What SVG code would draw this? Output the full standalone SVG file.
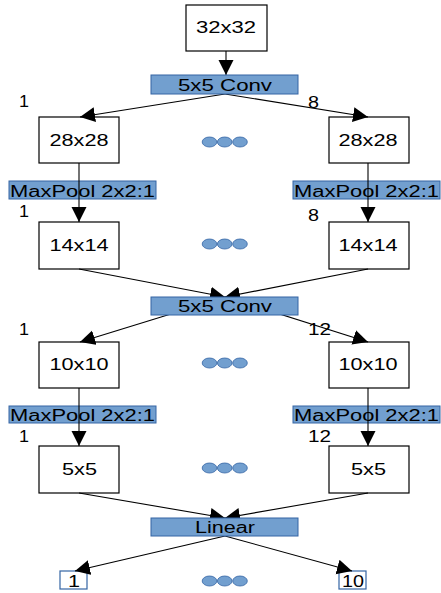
<svg xmlns="http://www.w3.org/2000/svg" width="441" height="593" viewBox="0 0 441 593">
  <style>
    .box { fill: #ffffff; stroke: #000000; stroke-width: 1.2; }
    .out { fill: #ffffff; stroke: #3465a4; stroke-width: 1.2; }
    .op { fill: #729fcf; stroke: #3465a4; stroke-width: 1; }
    .dot { fill: #729fcf; stroke: #3465a4; stroke-width: 0.8; }
    .lbl { font-family: "Liberation Sans", Arial, sans-serif; font-size: 16px; fill: #000000; }
    .mid { text-anchor: middle; }
    .edge { stroke: #000000; stroke-width: 1.1; fill: none; marker-end: url(#head); }
  </style>
  <defs>
    <marker id="head" markerUnits="userSpaceOnUse" markerWidth="17" markerHeight="16" refX="15" refY="7.5" orient="auto">
      <path d="M0,0 L15,7.5 L0,15 Z" fill="#000000"/>
    </marker>
  </defs>

  <rect width="441" height="593" fill="#ffffff"/>

  <!-- input image -->
  <g id="input">
    <rect class="box" x="186" y="5" width="81" height="46"/>
    <text class="lbl mid" x="226" y="33" textLength="60" lengthAdjust="spacingAndGlyphs">32x32</text>
  </g>

  <!-- layer 1 feature maps -->
  <g id="c1-first">
    <rect class="box" x="39" y="117" width="80" height="46"/>
    <text class="lbl mid" x="79" y="146" textLength="59" lengthAdjust="spacingAndGlyphs">28x28</text>
  </g>
  <g id="c1-last">
    <rect class="box" x="329" y="117" width="80" height="46"/>
    <text class="lbl mid" x="368" y="146" textLength="59" lengthAdjust="spacingAndGlyphs">28x28</text>
  </g>
  <g id="p1-first">
    <rect class="box" x="39" y="222" width="80" height="47"/>
    <text class="lbl mid" x="79" y="251" textLength="59" lengthAdjust="spacingAndGlyphs">14x14</text>
  </g>
  <g id="p1-last">
    <rect class="box" x="329" y="222" width="80" height="47"/>
    <text class="lbl mid" x="368" y="251" textLength="59" lengthAdjust="spacingAndGlyphs">14x14</text>
  </g>

  <!-- layer 2 feature maps -->
  <g id="c2-first">
    <rect class="box" x="39" y="342" width="80" height="46"/>
    <text class="lbl mid" x="79" y="370" textLength="59" lengthAdjust="spacingAndGlyphs">10x10</text>
  </g>
  <g id="c2-last">
    <rect class="box" x="329" y="342" width="80" height="46"/>
    <text class="lbl mid" x="368" y="370" textLength="59" lengthAdjust="spacingAndGlyphs">10x10</text>
  </g>
  <g id="p2-first">
    <rect class="box" x="39" y="446" width="80" height="47"/>
    <text class="lbl mid" x="79.5" y="475" textLength="35" lengthAdjust="spacingAndGlyphs">5x5</text>
  </g>
  <g id="p2-last">
    <rect class="box" x="329" y="446" width="80" height="47"/>
    <text class="lbl mid" x="368.5" y="475" textLength="35" lengthAdjust="spacingAndGlyphs">5x5</text>
  </g>

  <!-- outputs -->
  <g id="out-first">
    <rect class="out" x="60" y="571" width="27" height="18"/>
    <text class="lbl mid" x="74" y="587" textLength="12" lengthAdjust="spacingAndGlyphs">1</text>
  </g>
  <g id="out-last">
    <rect class="out" x="339" y="571" width="27" height="18"/>
    <text class="lbl mid" x="353" y="587" textLength="22" lengthAdjust="spacingAndGlyphs">10</text>
  </g>

  <!-- connectors -->
  <g id="connectors">
    <line class="edge" x1="226" y1="51" x2="226" y2="75"/>
    <line class="edge" x1="225" y1="94" x2="80" y2="117"/>
    <line class="edge" x1="225" y1="94" x2="368" y2="117"/>
    <line class="edge" x1="226" y1="297" x2="80" y2="342"/>
    <line class="edge" x1="226" y1="297" x2="368" y2="342"/>
    <line class="edge" x1="79" y1="269" x2="225" y2="297"/>
    <line class="edge" x1="368" y1="269" x2="225" y2="297"/>
    <line class="edge" x1="79" y1="493" x2="225" y2="518"/>
    <line class="edge" x1="368" y1="493" x2="225" y2="518"/>
    <line class="edge" x1="225" y1="536" x2="75" y2="571"/>
    <line class="edge" x1="225" y1="536" x2="352" y2="571"/>
  </g>

  <!-- operation bars -->
  <g id="conv1">
    <rect class="op" x="151" y="75" width="147" height="19"/>
    <text class="lbl mid" x="225" y="91" textLength="94" lengthAdjust="spacingAndGlyphs">5x5 Conv</text>
  </g>
  <g id="pool1-first">
    <rect class="op" x="9" y="181" width="147" height="18"/>
    <text class="lbl" x="10" y="197" textLength="145" lengthAdjust="spacingAndGlyphs">MaxPool 2x2:1</text>
  </g>
  <g id="pool1-last">
    <rect class="op" x="293" y="181" width="147" height="18"/>
    <text class="lbl" x="294" y="197" textLength="145" lengthAdjust="spacingAndGlyphs">MaxPool 2x2:1</text>
  </g>
  <g id="conv2">
    <rect class="op" x="151" y="297" width="147" height="18"/>
    <text class="lbl mid" x="225" y="312" textLength="94" lengthAdjust="spacingAndGlyphs">5x5 Conv</text>
  </g>
  <g id="pool2-first">
    <rect class="op" x="9" y="406" width="147" height="17"/>
    <text class="lbl" x="10" y="421" textLength="145" lengthAdjust="spacingAndGlyphs">MaxPool 2x2:1</text>
  </g>
  <g id="pool2-last">
    <rect class="op" x="293" y="406" width="147" height="17"/>
    <text class="lbl" x="294" y="421" textLength="145" lengthAdjust="spacingAndGlyphs">MaxPool 2x2:1</text>
  </g>
  <g id="linear">
    <rect class="op" x="151" y="518" width="147" height="18"/>
    <text class="lbl mid" x="225" y="533" textLength="60" lengthAdjust="spacingAndGlyphs">Linear</text>
  </g>

  <!-- pooling arrows pass over the bars -->
  <g id="connectors-pool">
    <line class="edge" x1="79" y1="163" x2="79" y2="222"/>
    <line class="edge" x1="368" y1="163" x2="368" y2="222"/>
    <line class="edge" x1="79" y1="388" x2="79" y2="446"/>
    <line class="edge" x1="368" y1="388" x2="368" y2="446"/>
  </g>

  <!-- channel indices -->
  <g id="indices">
    <text class="lbl" x="19" y="107" textLength="10" lengthAdjust="spacingAndGlyphs">1</text>
    <text class="lbl" x="308" y="108" textLength="11" lengthAdjust="spacingAndGlyphs">8</text>
    <text class="lbl" x="19" y="217" textLength="10" lengthAdjust="spacingAndGlyphs">1</text>
    <text class="lbl" x="308" y="221" textLength="11" lengthAdjust="spacingAndGlyphs">8</text>
    <text class="lbl" x="19" y="335" textLength="10" lengthAdjust="spacingAndGlyphs">1</text>
    <text class="lbl" x="308" y="335" textLength="23" lengthAdjust="spacingAndGlyphs">12</text>
    <text class="lbl" x="19" y="442" textLength="10" lengthAdjust="spacingAndGlyphs">1</text>
    <text class="lbl" x="308" y="442" textLength="23" lengthAdjust="spacingAndGlyphs">12</text>
  </g>

  <!-- ellipsis markers between first and last channel -->
  <g id="ellipses">
    <ellipse class="dot" cx="209.5" cy="142" rx="7.3" ry="5"/>
    <ellipse class="dot" cx="224.7" cy="142" rx="7.3" ry="5"/>
    <ellipse class="dot" cx="240" cy="142" rx="7.3" ry="5"/>
    <ellipse class="dot" cx="209.5" cy="244" rx="7.3" ry="5"/>
    <ellipse class="dot" cx="224.7" cy="244" rx="7.3" ry="5"/>
    <ellipse class="dot" cx="240" cy="244" rx="7.3" ry="5"/>
    <ellipse class="dot" cx="209.5" cy="363" rx="7.3" ry="5"/>
    <ellipse class="dot" cx="224.7" cy="363" rx="7.3" ry="5"/>
    <ellipse class="dot" cx="240" cy="363" rx="7.3" ry="5"/>
    <ellipse class="dot" cx="209.5" cy="468" rx="7.3" ry="5"/>
    <ellipse class="dot" cx="224.7" cy="468" rx="7.3" ry="5"/>
    <ellipse class="dot" cx="240" cy="468" rx="7.3" ry="5"/>
    <ellipse class="dot" cx="209.5" cy="581" rx="7.3" ry="5"/>
    <ellipse class="dot" cx="224.7" cy="581" rx="7.3" ry="5"/>
    <ellipse class="dot" cx="240" cy="581" rx="7.3" ry="5"/>
  </g>
</svg>
